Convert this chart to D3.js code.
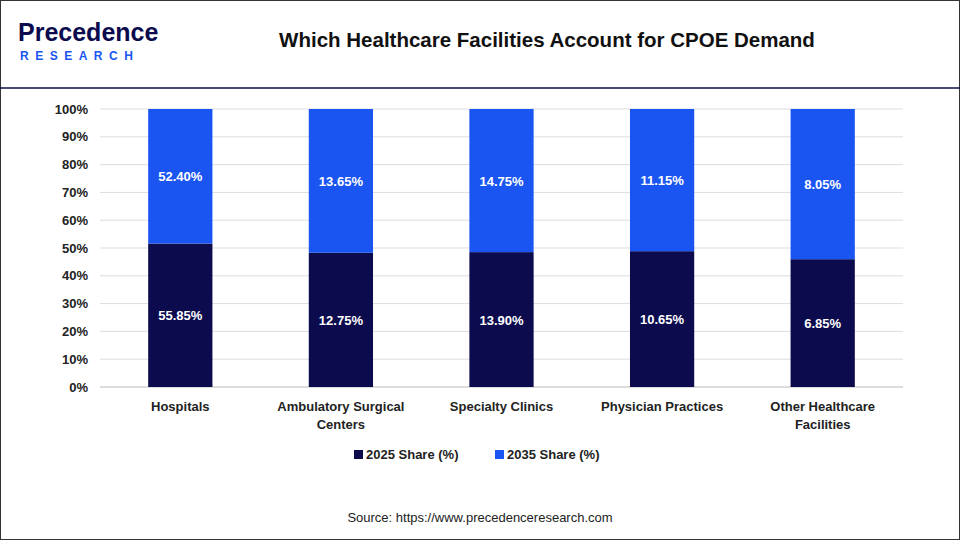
<!DOCTYPE html>
<html><head><meta charset="utf-8">
<script src="https://cdn.jsdelivr.net/npm/d3@7"></script>
<style>body{margin:0;background:#fff}svg{font-family:Arial,"Liberation Sans",sans-serif}</style>
</head><body><svg id="c" width="960" height="540"></svg>
<script>
const categories=["Hospitals","Ambulatory Surgical|Centers","Specialty Clinics","Physician Practices","Other Healthcare|Facilities"];
const share2025=[55.85,12.75,13.90,10.65,6.85];
const share2035=[52.40,13.65,14.75,11.15,8.05];
const seriesNames=["2025 Share (%)","2035 Share (%)"];
const colors=["#0b0b4d","#1a55f2"];
const ticks=[0,10,20,30,40,50,60,70,80,90,100];

const svg=d3.select("#c");
svg.append("rect").attr("x",0.5).attr("y",0.5).attr("width",959).attr("height",539).attr("fill","#fff").attr("stroke","#333");
svg.append("line").attr("x1",0).attr("x2",960).attr("y1",88).attr("y2",88).attr("stroke","#0b0b4d").attr("stroke-width",1.5);
svg.append("text").attr("x",18).attr("y",41).attr("font-size",25).attr("font-weight","bold").attr("fill","#0b0b4d").text("Precedence");
svg.append("text").attr("x",20).attr("y",60).attr("font-size",12).attr("font-weight","bold").attr("fill","#1a55f2").attr("letter-spacing",6.5).text("RESEARCH");
svg.append("text").attr("x",547).attr("y",47).attr("text-anchor","middle").attr("font-size",20.5).attr("font-weight","bold").attr("fill","#111").text("Which Healthcare Facilities Account for CPOE Demand");

const x=d3.scaleBand().domain(d3.range(categories.length)).range([100,903]).paddingInner(0.6).paddingOuter(0.3);
const y=d3.scaleLinear().domain([0,100]).range([387,109]);
const g=svg.append("g");
ticks.forEach(t=>{g.append("line").attr("x1",100).attr("x2",903).attr("y1",y(t)).attr("y2",y(t)).attr("stroke",t===0?"#bbb":"#ddd");
 g.append("text").attr("x",88).attr("y",y(t)+4.5).attr("text-anchor","end").attr("font-size",13).attr("font-weight","bold").attr("fill","#222").text(t+"%");});
categories.forEach((c,i)=>{
 const tot=share2025[i]+share2035[i], p1=share2025[i]/tot*100;
 const segs=[[0,p1,share2025[i]],[p1,100,share2035[i]]];
 segs.forEach((s,k)=>{
  g.append("rect").attr("x",x(i)).attr("width",x.bandwidth()).attr("y",y(s[1])).attr("height",y(s[0])-y(s[1])).attr("fill",colors[k]);
  g.append("text").attr("x",x(i)+x.bandwidth()/2).attr("y",(y(s[0])+y(s[1]))/2+5).attr("text-anchor","middle").attr("font-size",13).attr("font-weight","bold").attr("fill","#fff").text(s[2].toFixed(2)+"%");
 });
 c.split("|").forEach((l,j)=>g.append("text").attr("x",x(i)+x.bandwidth()/2).attr("y",411+j*18).attr("text-anchor","middle").attr("font-size",13).attr("font-weight","bold").attr("fill","#222").text(l));
});
const lx=[354,495];
seriesNames.forEach((n,k)=>{svg.append("rect").attr("x",lx[k]).attr("y",450).attr("width",9).attr("height",9).attr("fill",colors[k]);
 svg.append("text").attr("x",lx[k]+12).attr("y",459).attr("font-size",13).attr("font-weight","bold").attr("fill","#222").text(n);});
svg.append("text").attr("x",480).attr("y",522).attr("text-anchor","middle").attr("font-size",13).attr("fill","#222").text("Source: https://www.precedenceresearch.com");
</script></body></html>
